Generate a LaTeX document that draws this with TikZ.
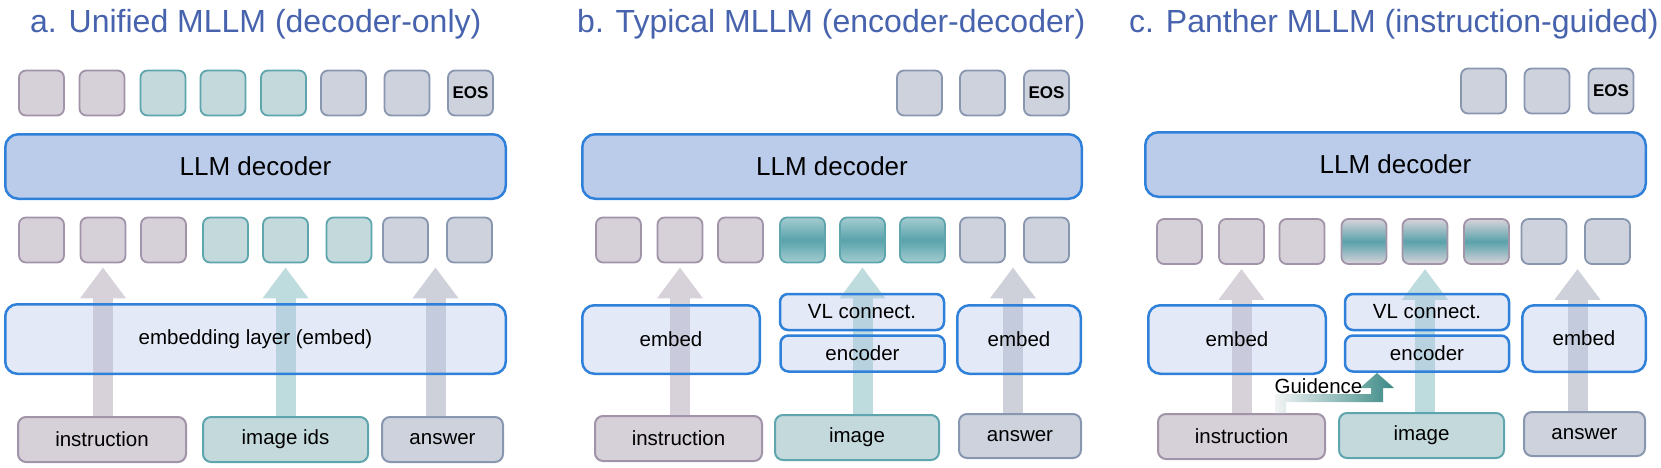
\documentclass[tikz,border=0pt]{standalone}
\usepackage{fontspec}
\setmainfont{Liberation Sans}
\definecolor{titleBlue}{HTML}{4763AD}
\definecolor{lineBlue}{HTML}{2F80D9}
\definecolor{decFill}{HTML}{BBCBEA}
\definecolor{embFill}{HTML}{AFC0E5}
\definecolor{insFill}{HTML}{D6D0D8}
\definecolor{insLine}{HTML}{A194A8}
\definecolor{imgFill}{HTML}{C3D9DC}
\definecolor{imgLine}{HTML}{5EA5AE}
\definecolor{ansFill}{HTML}{CDD2DC}
\definecolor{ansLine}{HTML}{8996AF}
\definecolor{imgDark}{HTML}{5AA2AB}
\definecolor{imgLight}{HTML}{A3CDD0}
\definecolor{guiLight}{HTML}{D8D3DB}
\definecolor{arIns}{HTML}{D7D1DA}
\definecolor{arImg}{HTML}{BEDCDE}
\definecolor{arAns}{HTML}{CED1D9}
\definecolor{guideLight}{HTML}{F2F4F4}
\definecolor{guideTeal}{HTML}{3C8A87}
\usetikzlibrary{arrows.meta}
\pgfdeclarelayer{back}
\pgfsetlayers{back,main}

\begin{document}
\begin{tikzpicture}[x=1pt,y=-1pt,
  title/.style={titleBlue,font=\fontsize{32}{36}\selectfont,anchor=base west,inner sep=0pt},
  tok/.style={rounded corners=7pt,line width=1.8pt,minimum width=45pt,minimum height=45pt,inner sep=0pt},
  tokIns/.style={tok,fill=insFill,draw=insLine},
  tokImg/.style={tok,fill=imgFill,draw=imgLine},
  tokAns/.style={tok,fill=ansFill,draw=ansLine},
  tokEnc/.style={tok,draw=imgLine,top color=imgLight,bottom color=imgLight,middle color=imgDark},
  tokGui/.style={tok,draw=insLine,top color=guiLight,bottom color=guiLight,middle color=imgDark},
  eos/.style={tokAns,font=\bfseries\fontsize{17}{20}\selectfont},
  dec/.style={draw=lineBlue,fill=decFill,line width=2.5pt,rounded corners=13pt,minimum height=64.5pt,font=\fontsize{26}{30}\selectfont},
  emb/.style={draw=lineBlue,fill=embFill,fill opacity=.35,text opacity=1,line width=2.5pt,rounded corners=12pt,minimum height=68.5pt,font=\fontsize{20.5}{24}\selectfont},
  enc/.style={emb,rounded corners=8pt,minimum width=164pt,minimum height=36pt},
  src/.style={line width=2pt,rounded corners=8pt,minimum height=45pt,font=\fontsize{20.5}{24}\selectfont},
  srcIns/.style={src,fill=insFill,draw=insLine},
  srcImg/.style={src,fill=imgFill,draw=imgLine},
  srcAns/.style={src,fill=ansFill,draw=ansLine},
  fat/.style={line width=20pt,-{Triangle[width=44pt,length=31pt]},shorten >=4pt},
  guide/.style={left color=guideLight,right color=guideTeal},
  lbl/.style={font=\fontsize{20.5}{24}\selectfont,inner sep=0pt}]
  \useasboundingbox (0,0) rectangle (1661,468);
  % titles
  \node[title] (tA) at (30,33) {a. Unified MLLM (decoder-only)};
  \node[title] (tB) at (577,33) {b. Typical MLLM (encoder-decoder)};
  \node[title] (tC) at (1129,33) {c. Panther MLLM (instruction-guided)};
  % a. unified
  \foreach \x [count=\i] in {41.5,102} \node[tokIns] (oa\i) at (\x,93) {};
  \foreach \x [count=\i from 3] in {163,223,283.5} \node[tokImg] (oa\i) at (\x,93) {};
  \foreach \x [count=\i from 6] in {343.5,407} \node[tokAns] (oa\i) at (\x,93) {};
  \node[eos] (oa8) at (470.5,93) {EOS};
  \node[dec,minimum width=500.5pt] (decA) at (255.5,166.5) {LLM decoder};
  \foreach \x [count=\i] in {41.5,103,163.5} \node[tokIns] (ia\i) at (\x,240) {};
  \foreach \x [count=\i from 4] in {225.5,285.5,349} \node[tokImg] (ia\i) at (\x,240) {};
  \foreach \x [count=\i from 7] in {405.5,469.5} \node[tokAns] (ia\i) at (\x,240) {};
  \node[emb,minimum width=500.5pt,minimum height=69.5pt] (embA) at (255.5,339) {embedding layer (embed)};
  \node[srcIns,minimum width=168pt] (insA) at (102,439.5) {instruction};
  \node[srcImg,minimum width=165pt] (imgA) at (285.5,439.5) {image ids};
  \node[srcAns,minimum width=121pt] (ansA) at (442.5,439.5) {answer};
  % b. typical
  \foreach \x [count=\i from 6] in {919.5,982.5} \node[tokAns] (ob\i) at (\x,93) {};
  \node[eos] (ob8) at (1046.5,93) {EOS};
  \node[dec,minimum width=499.5pt] (decB) at (832,166.5) {LLM decoder};
  \foreach \x [count=\i] in {618.5,680,740.5} \node[tokIns] (ib\i) at (\x,240) {};
  \foreach \x [count=\i from 4] in {802.5,862.5,922.5} \node[tokEnc] (ib\i) at (\x,240) {};
  \foreach \x [count=\i from 7] in {982.5,1046.5} \node[tokAns] (ib\i) at (\x,240) {};
  \node[emb,minimum width=177.5pt] (embB1) at (671,339.5) {embed};
  \node[enc] (vlB) at (862,312) {VL connect.};
  \node[enc] (encB) at (862.5,353.5) {encoder};
  \node[emb,minimum width=123.5pt] (embB2) at (1019,339.5) {embed};
  \node[srcIns,minimum width=167pt] (insB) at (678.5,438.5) {instruction};
  \node[srcImg,minimum width=164pt] (imgB) at (857,437.5) {image};
  \node[srcAns,minimum width=122pt,minimum height=44pt] (ansB) at (1020,436) {answer};
  % c. panther
  \foreach \x [count=\i from 6] in {1483.5,1547} \node[tokAns] (oc\i) at (\x,91) {};
  \node[eos] (oc8) at (1611,91) {EOS};
  \node[dec,minimum width=500.5pt] (decC) at (1395.5,164.5) {LLM decoder};
  \foreach \x [count=\i] in {1179.5,1241.5,1302} \node[tokIns] (ic\i) at (\x,241.5) {};
  \foreach \x [count=\i from 4] in {1364,1425,1486.5} \node[tokGui] (ic\i) at (\x,241.5) {};
  \foreach \x [count=\i from 7] in {1544,1607.5} \node[tokAns] (ic\i) at (\x,241.5) {};
  \node[emb,minimum width=177.5pt] (embC1) at (1237,339.5) {embed};
  \node[enc] (vlC) at (1427,312) {VL connect.};
  \node[enc] (encC) at (1427,353.5) {encoder};
  \node[emb,minimum width=123.5pt,minimum height=66.5pt] (embC2) at (1584,338.5) {embed};
  \node[srcIns,minimum width=167pt] (insC) at (1241.5,436.5) {instruction};
  \node[srcImg,minimum width=165pt] (imgC) at (1421.5,435.5) {image};
  \node[srcAns,minimum width=121pt,minimum height=44pt] (ansC) at (1584.5,434) {answer};
  % guidance from instruction to encoder
  \shade[guide] (1275,413) -- (1275,394) -- (1371,394) -- (1371,388) -- (1360,388) -- (1377,373)
    -- (1394,388) -- (1383,388) -- (1383,402) -- (1286,402) -- (1286,413) -- cycle;
  \node[lbl,anchor=base] (gLbl) at (1318.5,393) {Guidence};
  % fat arrows behind the boxes
  \begin{pgfonlayer}{back}
    \draw[fat,arIns] (ia2 |- insA.north) -- (ia2.south);
    \draw[fat,arImg] (ia5 |- imgA.north) -- (ia5.south);
    \draw[fat,arAns] ([xshift=-7pt]ansA.north) -- ([xshift=-7pt]ansA.north |- ia8.south);
    \draw[fat,arIns] (ib2 |- insB.north) -- (ib2.south);
    \draw[fat,arImg] (ib5 |- imgB.north) -- (ib5.south);
    \draw[fat,arAns] ([xshift=-7pt]ansB.north) -- ([xshift=-7pt]ansB.north |- ib8.south);
    \draw[fat,arIns] (ic2 |- insC.north) -- (ic2.south);
    \draw[fat,arImg] (ic5 |- imgC.north) -- (ic5.south);
    \draw[fat,arAns] ([xshift=-7pt]ansC.north) -- ([xshift=-7pt]ansC.north |- ic8.south);
  \end{pgfonlayer}
\end{tikzpicture}
\end{document}
